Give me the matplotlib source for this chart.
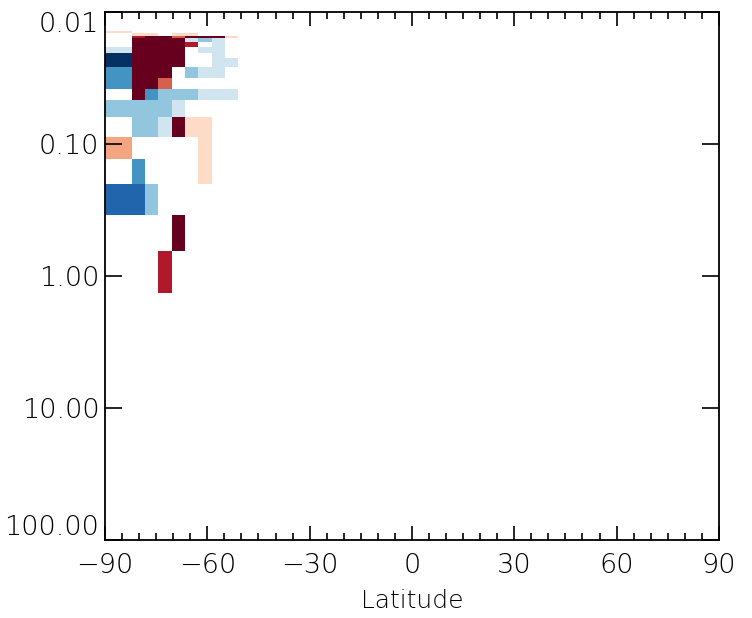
import numpy as np
import matplotlib
matplotlib.use('Agg')
from matplotlib import pyplot as plt
from matplotlib.colors import ListedColormap, BoundaryNorm
from matplotlib.ticker import FixedLocator, MultipleLocator, FuncFormatter

# latitude bin edges (deg) and pressure level edges
lat_edges = [-90.0, -86.09, -82.17, -78.26, -74.35, -70.43, -66.52, -62.61, -58.70, -54.78, -50.87]
p_edges = [0.0139, 0.0144, 0.0152, 0.0158, 0.0168, 0.0184, 0.0203, 0.0222, 0.0260, 0.0315,
           0.0381, 0.0462, 0.0621, 0.0881, 0.130, 0.201, 0.345, 0.647, 1.34]

n = np.nan
# class values per level (rows) and latitude bin (columns), NaN = no data
values = [
    [1, 1, n, n, n, n, n, n, n, n],
    [n, n, 1, 1, n, 1, 1, n, n, n],
    [n, n, 4, 5, 5, 3, 5, 5, 5, 1],
    [n, n, 5, 5, 5, 5, -1, -2, -1, n],
    [n, n, 5, 5, 5, 5, 4, n, -1, n],
    [-1, -1, 5, 5, 5, 5, n, -1, -1, n],
    [-5, -5, 5, 5, 5, 5, n, n, -1, n],
    [-5, -5, 5, 5, 5, 5, n, n, -1, -1],
    [-3, -3, 5, 5, 5, n, -2, -1, -1, n],
    [-3, -3, 5, 5, 3, n, n, n, n, n],
    [n, n, 5, -3, -2, -2, -2, -1, -1, -1],
    [-2, -2, -2, -2, -2, -1, n, n, n, n],
    [n, n, -2, -2, -1, 5, 1, 1, n, n],
    [2, 2, n, n, n, n, n, 1, n, n],
    [n, n, -3, n, n, n, n, 1, n, n],
    [-4, -4, -4, -2, n, n, n, n, n, n],
    [n, n, n, n, n, 5, n, n, n, n],
    [n, n, n, n, 4, n, n, n, n, n],
]

colors = ['#053061', '#2166ac', '#4393c3', '#92c5de', '#d1e5f0', '#ffffff',
          '#fddbc7', '#f4a582', '#d6604d', '#b2182b', '#67001f']
cmap = ListedColormap(colors)
norm = BoundaryNorm(np.arange(-5.5, 6.5, 1.0), cmap.N)

plt.rcParams['font.family'] = ['DejaVu Sans']
plt.rcParams['font.weight'] = 'light'

fig = plt.figure(figsize=(7.52, 6.18), dpi=100)
ax = fig.add_axes([0.1396, 0.1262, 0.8164, 0.8544])

data = np.ma.masked_invalid(np.array(values, dtype=float))
ax.pcolormesh(lat_edges, p_edges, data, cmap=cmap, norm=norm)

ax.set_yscale('log')
ax.set_ylim(100, 0.01)
ax.set_xlim(-90, 90)

ax.yaxis.set_major_locator(FixedLocator([0.01, 0.1, 1, 10, 100]))
ax.yaxis.set_major_formatter(FuncFormatter(lambda v, pos: '%.2f' % v))
ax.yaxis.set_minor_locator(FixedLocator([]))
ax.xaxis.set_major_locator(MultipleLocator(30))
ax.xaxis.set_minor_locator(MultipleLocator(5))
ax.xaxis.set_major_formatter(FuncFormatter(lambda v, pos: ('%d' % v).replace('-', '\u2212')))

ax.tick_params(axis='both', which='both', direction='in', top=True, right=True,
               labelsize=19.5, width=1.2, colors='black', labelcolor='black')
ax.tick_params(axis='x', which='major', length=10, pad=9)
ax.tick_params(axis='x', which='minor', length=5)
ax.tick_params(axis='y', which='major', length=12, pad=4)
for s in ax.spines.values():
    s.set_linewidth(1.3)

# end labels sit inside the axis range, as in the original
yt = ax.yaxis.get_major_ticks()
yt[0].label1.set_va('top')
yt[-1].label1.set_va('bottom')

ax.set_xlabel('Latitude', fontsize=18, fontweight='light', color='black', labelpad=8)

fig.savefig('out.png', dpi=100)
